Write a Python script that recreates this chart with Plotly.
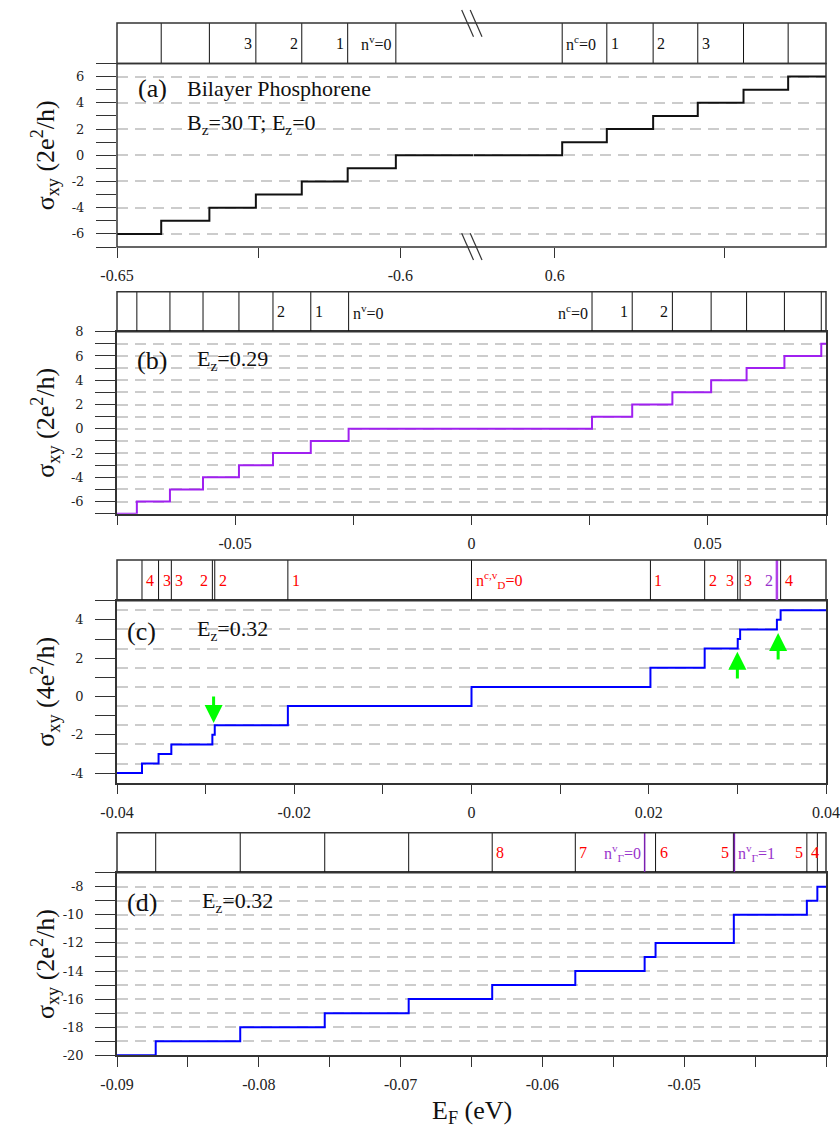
import plotly.graph_objects as go

W, H = 840, 1134

# ---------------- data ----------------
# (a) bilayer phosphorene, Bz = 30 T, Ez = 0  (broken energy axis)
a_levels_v = [-0.6422, -0.6337, -0.6255, -0.6174, -0.6093, -0.6008]
a_sigma_v = [-6, -5, -4, -3, -2, -1, 0]
a_levels_c = [0.6013, 0.6092, 0.6174, 0.6253, 0.6334, 0.6413]
a_sigma_c = [0, 1, 2, 3, 4, 5, 6]
a_range_left = [-0.65, -0.5871]
a_range_right = [0.5856, 0.648]
a_labels_v = [("3", 2), ("2", 3), ("1", 4), ("n<sup>v</sup>=0", 5)]      # text left of line
a_labels_c = [("n<sup>c</sup>=0", 0), ("1", 1), ("2", 2), ("3", 3)]      # text right of line

# (b) Ez = 0.29
b_levels = [-0.0708, -0.0638, -0.0568, -0.0492, -0.0420, -0.0340, -0.0260,
            0.0255, 0.0340, 0.0425, 0.0507, 0.0582, 0.0662, 0.0740]
b_sigma = [-7, -6, -5, -4, -3, -2, -1, 0, 1, 2, 3, 4, 5, 6, 7]
b_range = [-0.075, 0.075]
b_labels = [("2", 4, "R"), ("1", 5, "R"), ("n<sup>v</sup>=0", 6, "R"),
            ("n<sup>c</sup>=0", 7, "L"), ("1", 8, "L"), ("2", 9, "L")]

# (c) Ez = 0.32, units 4e^2/h
c_levels = [-0.03718, -0.03531, -0.03387, -0.02924, -0.02897, -0.02072, 0.0,
            0.02019, 0.02631, 0.03004, 0.03031, 0.03446, 0.03488]
c_sigma = [-4, -3.5, -3, -2.5, -2, -1.5, -0.5, 0.5, 1.5, 2.5, 3, 3.5, 4, 4.5]
c_range = [-0.04, 0.04]
c_purple_idx = [11]
c_labels = [("4", 0, "R", "red"), ("3", 1, "R", "red"), ("3", 2, "R", "red"),
            ("2", 3, "L", "red"), ("2", 4, "R", "red"), ("1", 5, "R", "red"),
            ("n<sup>c,v</sup><sub>D</sub>=0", 6, "R", "red"), ("1", 7, "R", "red"),
            ("2", 8, "R", "red"), ("3", 9, "L", "red"), ("3", 10, "R", "red"),
            ("2", 11, "L", "purple"), ("4", 12, "R", "red")]
c_arrow_x = [-0.0291, 0.0300, 0.0346]
c_arrow_tail = [0.08, 0.86, 1.85]
c_arrow_head = [-1.38, 2.34, 3.31]

# (d) Ez = 0.32
d_levels = [-0.08727, -0.08131, -0.07535, -0.06943, -0.06354, -0.05768, -0.05279,
            -0.05202, -0.04650, -0.04135, -0.04061]
d_sigma = [-20, -19, -18, -17, -16, -15, -14, -13, -12, -10, -9, -8]
d_range = [-0.09, -0.04]
d_strip_black = [-0.08727, -0.08131, -0.07535, -0.06943, -0.06354, -0.05768,
                 -0.05202, -0.04653, -0.04135, -0.04061]
d_strip_purple = [-0.05279, -0.04646]
d_labels = [("8", -0.06354, "R", "red"), ("7", -0.05768, "R", "red"),
            ("n<sup>v</sup><sub>Γ</sub>=0", -0.05279, "L", "purple"),
            ("6", -0.05202, "R", "red"), ("5", -0.04653, "L", "red"),
            ("n<sup>v</sup><sub>Γ</sub>=1", -0.04646, "R", "purple"),
            ("5", -0.04135, "L", "red"), ("4", -0.04135, "R", "red")]

# ---------------- styling ----------------
BLACK = "#111111"
PURPLE_LINE = "#A020F0"
BLUE = "#0000FF"
RED = "#FF0000"
PURPLE_TXT = "#9933CC"
GREEN = "#00FF00"
AXC = "#333333"
GRID = "#cccccc"
GRIDDASH = "11px,7px"
SERIF = "Liberation Serif"
COLORS = {"red": RED, "purple": PURPLE_TXT}


def px(x):
    return x / W


def py(y):
    return 1 - y / H


def dom(top, bottom):
    return [py(bottom), py(top)]


XL, XR, XB = px(117), px(826), px(473.5)
A_STRIP, A_PLOT = (23, 63.5), (63.5, 247)
B_STRIP, B_PLOT = (291.7, 331.7), (331.7, 513.7)
C_STRIP, C_PLOT = (560, 600.7), (600.7, 782.7)
D_STRIP, D_PLOT = (832.7, 872.7), (872.7, 1055.3)

fig = go.Figure()


def steps(levels, sigma, rng):
    return [rng[0]] + list(levels) + [rng[1]], list(sigma) + [sigma[-1]]


def vlines(levels):
    xs, ys = [], []
    for e in levels:
        xs += [e, e, None]
        ys += [0, 1, None]
    return xs, ys


def add_step(levels, sigma, rng, color, xa, ya):
    x, y = steps(levels, sigma, rng)
    fig.add_trace(go.Scatter(x=x, y=y, mode="lines", xaxis=xa, yaxis=ya,
                             line=dict(color=color, width=2, shape="hv"),
                             hoverinfo="skip", showlegend=False))


def add_vlines(levels, color, width, xa, ya):
    x, y = vlines(levels)
    fig.add_trace(go.Scatter(x=x, y=y, mode="lines", xaxis=xa, yaxis=ya,
                             line=dict(color=color, width=width),
                             hoverinfo="skip", showlegend=False))


# (a)
add_step(a_levels_v, a_sigma_v, a_range_left, BLACK, "x", "y")
add_step(a_levels_c, a_sigma_c, a_range_right, BLACK, "x2", "y")
add_vlines(a_levels_v, BLACK, 1, "x", "y2")
add_vlines(a_levels_c, BLACK, 1, "x2", "y2")
# (b)
add_step(b_levels, b_sigma, b_range, PURPLE_LINE, "x3", "y3")
add_vlines(b_levels, BLACK, 1, "x3", "y4")
# (c)
add_step(c_levels, c_sigma, c_range, BLUE, "x4", "y5")
add_vlines([e for i, e in enumerate(c_levels) if i not in c_purple_idx], BLACK, 1, "x4", "y6")
add_vlines([c_levels[i] for i in c_purple_idx], "#B040E8", 2.5, "x4", "y6")
# (d)
add_step(d_levels, d_sigma, d_range, BLUE, "x5", "y7")
add_vlines(d_strip_black, BLACK, 1, "x5", "y8")
add_vlines(d_strip_purple, "#7A1FB0", 1.5, "x5", "y8")

xtickfont = dict(family=SERIF, size=16, color="#222")
ytickfont = dict(family="DejaVu Serif", size=13, color="#222")


def xcfg(domain, rng, vals, texts, anchor, line=True):
    return dict(domain=domain, range=rng, anchor=anchor, tickmode="array",
                tickvals=vals, ticktext=texts, ticks="outside", ticklen=10,
                tickwidth=1, tickcolor=AXC, showgrid=False, zeroline=False,
                showline=line, mirror=line, linecolor=AXC, linewidth=1.5,
                tickfont=xtickfont, ticklabelstandoff=4, automargin=False)


def ycfg(domain, rng, vals, texts, anchor, grid=True, minor=None, line=True):
    d = dict(domain=domain, range=rng, anchor=anchor, tickmode="array",
             tickvals=vals, ticktext=texts, ticks="outside", ticklen=20,
             tickwidth=1, tickcolor=AXC, showgrid=grid, gridcolor=GRID,
             gridwidth=1.5, griddash=GRIDDASH, zeroline=False,
             showline=line, mirror=line, linecolor=AXC, linewidth=1.5,
             tickfont=ytickfont, ticklabelstandoff=9, automargin=False)
    if minor is not None:
        d["minor"] = minor
    return d


def even_labels(vals):
    return [str(int(v)) if int(v) % 2 == 0 else "" for v in vals]


def strip_axis(domain, anchor):
    return dict(domain=domain, range=[0, 1], anchor=anchor, visible=False,
                fixedrange=True, automargin=False)


ya_major = list(range(-6, 7, 2))
ya_minor = list(range(-7, 8, 2))
yb_vals = list(range(-7, 9))
yc_vals = list(range(-4, 6))
yc_grid = [v + 0.5 for v in range(-4, 5)]
yd_vals = list(range(-20, -6))

fig.update_layout(
    width=W, height=H, margin=dict(l=0, r=0, t=0, b=0, autoexpand=False),
    paper_bgcolor="white", plot_bgcolor="white", showlegend=False,
    xaxis=xcfg([XL, XB], a_range_left, [-0.65, -0.625, -0.6], ["-0.65", "", "-0.6"], "y", line=False),
    xaxis2=xcfg([XB, XR], a_range_right, [0.6, 0.63], ["0.6", ""], "y", line=False),
    yaxis=ycfg(dom(*A_PLOT), [-7, 7], ya_major, [str(v) for v in ya_major], "x",
               minor=dict(tickmode="array", tickvals=ya_minor, ticks="outside",
                          ticklen=20, tickcolor=AXC, showgrid=False), line=False),
    yaxis2=strip_axis(dom(*A_STRIP), "x"),
    xaxis3=xcfg([XL, XR], b_range, [-0.075, -0.05, -0.025, 0, 0.025, 0.05, 0.075],
                ["", "-0.05", "", "0", "", "0.05", ""], "y3"),
    yaxis3=ycfg(dom(*B_PLOT), [-7, 8], yb_vals, even_labels(yb_vals), "x3"),
    yaxis4=strip_axis(dom(*B_STRIP), "x3"),
    xaxis4=xcfg([XL, XR], c_range, [-0.04, -0.03, -0.02, -0.01, 0, 0.01, 0.02, 0.03, 0.04],
                ["-0.04", "", "-0.02", "", "0", "", "0.02", "", "0.04"], "y5"),
    yaxis5=ycfg(dom(*C_PLOT), [-4.5, 5], yc_vals, even_labels(yc_vals), "x4", grid=False,
                minor=dict(tickmode="array", tickvals=yc_grid, ticks="", showgrid=True,
                           gridcolor=GRID, gridwidth=1.5, griddash=GRIDDASH)),
    yaxis6=strip_axis(dom(*C_STRIP), "x4"),
    xaxis5=xcfg([XL, XR], d_range,
                [-0.09, -0.085, -0.08, -0.075, -0.07, -0.065, -0.06, -0.055, -0.05, -0.045, -0.04],
                ["-0.09", "", "-0.08", "", "-0.07", "", "-0.06", "", "-0.05", "", "-0.04"], "y7"),
    yaxis7=ycfg(dom(*D_PLOT), [-20, -7], yd_vals, even_labels(yd_vals), "x5"),
    yaxis8=strip_axis(dom(*D_STRIP), "x5"),
)

shapes = []
for top, bot in [A_PLOT, A_STRIP, B_STRIP, C_STRIP, D_STRIP]:
    shapes.append(dict(type="rect", xref="paper", yref="paper", x0=XL, x1=XR,
                       y0=py(bot), y1=py(top), line=dict(color=AXC, width=1.5)))
for yt, yb in [(10, 36.7), (233.3, 260)]:
    for dx in (0, 8.5):
        shapes.append(dict(type="line", xref="paper", yref="paper",
                           x0=px(461.7 + dx), x1=px(473.5 + dx), y0=py(yt), y1=py(yb),
                           line=dict(color=AXC, width=1.2)))
fig.update_layout(shapes=shapes)

ann = []


def sfont(c="#111"):
    return dict(family=SERIF, size=16, color=c)


def strip_label(text, xval, side, xa, ya, color="#111"):
    ann.append(dict(text=text, x=xval, y=0.5, xref=xa, yref=ya, showarrow=False,
                    xanchor="right" if side == "L" else "left", yanchor="middle",
                    xshift=-2 if side == "L" else 2, font=sfont(color)))


for t, i in a_labels_v:
    strip_label(t, a_levels_v[i], "L", "x", "y2")
for t, i in a_labels_c:
    strip_label(t, a_levels_c[i], "R", "x2", "y2")
for t, i, s in b_labels:
    strip_label(t, b_levels[i], s, "x3", "y4")
for t, i, s, c in c_labels:
    strip_label(t, c_levels[i], s, "x4", "y6", COLORS[c])
for t, e, s, c in d_labels:
    strip_label(t, e, s, "x5", "y8", COLORS[c])

for xa_, t_, h_ in zip(c_arrow_x, c_arrow_tail, c_arrow_head):
    ann.append(dict(x=xa_, y=h_, ax=xa_, ay=t_, xref="x4", yref="y5", axref="x4",
                    ayref="y5", text="", showarrow=True, arrowhead=2, arrowsize=1.2,
                    arrowwidth=3, arrowcolor=GREEN))


def text_at(text, x, y, size, anchor="left"):
    ann.append(dict(text=text, x=px(x), y=py(y), xref="paper", yref="paper",
                    showarrow=False, xanchor=anchor, yanchor="middle",
                    font=dict(family=SERIF, size=size, color="#111")))


text_at("(a)", 152, 88, 26, "center")
text_at("Bilayer Phosphorene", 185, 88, 22)
text_at("B<sub>z</sub>=30 T; E<sub>z</sub>=0", 185, 124, 22)
text_at("(b)", 152, 360, 26, "center")
text_at("E<sub>z</sub>=0.29", 195, 360, 22)
text_at("(c)", 141, 631, 26, "center")
text_at("E<sub>z</sub>=0.32", 195, 630, 22)
text_at("(d)", 142, 902, 26, "center")
text_at("E<sub>z</sub>=0.32", 200, 902, 22)

for (top, bot), unit in [(A_PLOT, "2"), (B_PLOT, "2"), (C_PLOT, "4"), (D_PLOT, "2")]:
    ann.append(dict(text="σ<sub>xy</sub> (" + unit + "e<sup>2</sup>/h)", x=px(45),
                    y=py((top + bot) / 2), xref="paper", yref="paper", showarrow=False,
                    textangle=-90, xanchor="center", yanchor="middle",
                    font=dict(family=SERIF, size=26, color="#111")))
ann.append(dict(text="E<sub>F</sub> (eV)", x=px(471.5), y=py(1112), xref="paper",
                yref="paper", showarrow=False, xanchor="center", yanchor="middle",
                font=dict(family=SERIF, size=26, color="#111")))

fig.update_layout(annotations=ann)
fig.write_html("out.html")
